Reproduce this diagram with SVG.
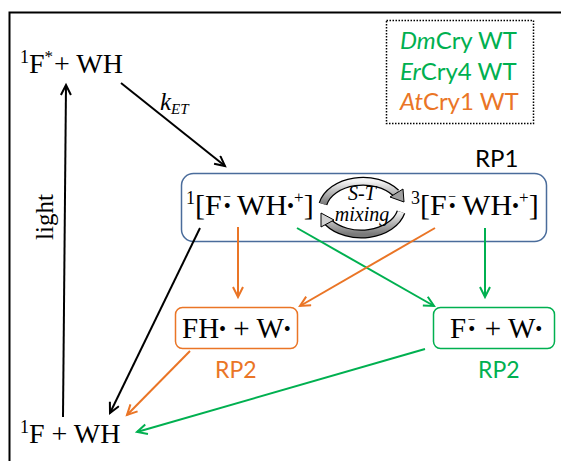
<svg xmlns="http://www.w3.org/2000/svg" width="561" height="461" viewBox="0 0 561 461">
<defs>
<style>
.t{font-family:"Liberation Serif","Times New Roman",serif;fill:#000}
.s{font-family:Lato,"Open Sans",sans-serif}
.ln{fill:none;stroke-width:2}
.k{stroke:#000}
.o{stroke:#ea7526}
.g{stroke:#00b050}
.fo{fill:#ea7526}
.fg{fill:#00b050}
</style>
<linearGradient id="gr" x1="0" y1="0" x2="0" y2="1">
<stop offset="0" stop-color="#f4f4f4"/>
<stop offset="1" stop-color="#7a7a7a"/>
</linearGradient>
<marker id="ak" markerUnits="userSpaceOnUse" markerWidth="14" markerHeight="14" refX="11" refY="6" orient="auto"><path d="M1,1 L11,6 L1,11" fill="none" stroke="#000" stroke-width="2"/></marker>
<marker id="ao" markerUnits="userSpaceOnUse" markerWidth="14" markerHeight="14" refX="11" refY="6" orient="auto"><path d="M1,1 L11,6 L1,11" fill="none" stroke="#ea7526" stroke-width="2"/></marker>
<marker id="ag" markerUnits="userSpaceOnUse" markerWidth="14" markerHeight="14" refX="11" refY="6" orient="auto"><path d="M1,1 L11,6 L1,11" fill="none" stroke="#00b050" stroke-width="2"/></marker>
</defs>
<rect width="561" height="461" fill="#fff"/>
<path d="M9.5,461 V12.5 H561" fill="none" stroke="#000" stroke-width="2"/>

<g id="legend">
<rect x="386.5" y="20.5" width="147" height="103" fill="none" stroke="#000" stroke-width="1.5" stroke-dasharray="1.5 1.5"/>
<text class="s fg" x="400" y="49" font-size="24"><tspan font-style="italic">Dm</tspan>Cry WT</text>
<text class="s fg" x="400" y="80" font-size="24"><tspan font-style="italic">Er</tspan>Cry4 WT</text>
<text class="s fo" x="400" y="110" font-size="24"><tspan font-style="italic">At</tspan>Cry1 WT</text>
</g>

<g id="excited">
<text class="t" x="20" y="73" font-size="28"><tspan font-size="18" dy="-10">1</tspan><tspan dy="10">F</tspan><tspan font-size="17" dy="-11">*</tspan><tspan dy="11" dx="1">+ WH</tspan></text>
</g>

<g id="ground">
<text class="t" x="20" y="443" font-size="28"><tspan font-size="18" dy="-10">1</tspan><tspan dy="10">F + WH</tspan></text>
</g>

<g id="rp1">
<rect x="181.5" y="173.5" width="365" height="68" rx="12" fill="none" stroke="#4a6c9b" stroke-width="1.5"/>
<text class="s" x="475" y="167" font-size="24">RP1</text>
<text class="t" x="186" y="215" font-size="30"><tspan font-size="18" dy="-11">1</tspan><tspan dy="11">[F</tspan><tspan font-size="20" dx="2" dy="-2">•</tspan><tspan font-size="14" dx="-7.5" dy="-12">−</tspan><tspan dx="6" dy="14">WH</tspan><tspan font-size="20" dy="-2">•</tspan><tspan font-size="17" dy="-10">+</tspan><tspan dy="12">]</tspan></text>
<text class="t" x="411" y="215" font-size="30"><tspan font-size="18" dy="-11">3</tspan><tspan dy="11">[F</tspan><tspan font-size="20" dx="2" dy="-2">•</tspan><tspan font-size="14" dx="-7.5" dy="-12">−</tspan><tspan dx="6" dy="14">WH</tspan><tspan font-size="20" dy="-2">•</tspan><tspan font-size="17" dy="-10">+</tspan><tspan dy="12">]</tspan></text>
</g>

<g id="st_mixing">
<path d="M323,204 A41,29 0 0,1 396,193" fill="none" stroke="#000" stroke-width="9"/>
<path d="M323,204 A41,29 0 0,1 396,193" fill="none" stroke="url(#gr)" stroke-width="6.5"/>
<polygon points="403,189 390,197 404,202" fill="#a0a0a0" stroke="#000" stroke-width="1"/>
<path d="M401,212 A41,29 0 0,1 328,222" fill="none" stroke="#000" stroke-width="9"/>
<path d="M401,212 A41,29 0 0,1 328,222" fill="none" stroke="url(#gr)" stroke-width="6.5"/>
<polygon points="321,227 334,220 321,213" fill="#d0d0d0" stroke="#000" stroke-width="1"/>
<text class="t" x="362" y="200" font-size="20" font-style="italic" text-anchor="middle">S-T</text>
<text class="t" x="362" y="221" font-size="20" font-style="italic" text-anchor="middle">mixing</text>
</g>

<g id="rp2_orange">
<rect x="175.5" y="307.5" width="122" height="41" rx="7" fill="none" stroke="#ea7526" stroke-width="1.5"/>
<text class="t" x="182" y="338" font-size="29">FH<tspan font-size="20" dy="-2">•</tspan><tspan dy="2"> + W</tspan><tspan font-size="20" dy="-2">•</tspan></text>
<text class="s fo" x="215" y="378" font-size="23">RP2</text>
</g>

<g id="rp2_green">
<rect x="433.5" y="307.5" width="121" height="41" rx="7" fill="none" stroke="#00b050" stroke-width="1.5"/>
<text class="t" x="450" y="338" font-size="29">F<tspan font-size="20" dx="2" dy="-2">•</tspan><tspan font-size="14" dx="-7.5" dy="-12">−</tspan><tspan dx="2" dy="14"> + W</tspan><tspan font-size="20" dy="-2">•</tspan></text>
<text class="s fg" x="478" y="378" font-size="23">RP2</text>
</g>

<g id="connectors">
<line class="ln k" x1="63" y1="417" x2="66" y2="85" marker-end="url(#ak)"/>
<line class="ln k" x1="121" y1="83" x2="225" y2="166" marker-end="url(#ak)"/>
<line class="ln k" x1="200" y1="228" x2="110" y2="413" marker-end="url(#ak)"/>
<line class="ln o" x1="238" y1="227" x2="238" y2="297" marker-end="url(#ao)"/>
<line class="ln g" x1="297" y1="228" x2="434" y2="306" marker-end="url(#ag)"/>
<line class="ln o" x1="435" y1="228" x2="300" y2="306" marker-end="url(#ao)"/>
<line class="ln g" x1="485" y1="228" x2="485" y2="297" marker-end="url(#ag)"/>
<line class="ln o" x1="190" y1="351" x2="127" y2="415" marker-end="url(#ao)"/>
<line class="ln g" x1="425" y1="349" x2="137" y2="432" marker-end="url(#ag)"/>
<text class="t" transform="translate(53,217) rotate(-90)" font-size="25" text-anchor="middle">light</text>
<text class="t" x="160" y="110" font-size="25" font-style="italic">k<tspan font-size="15" dy="4">ET</tspan></text>
</g>
</svg>
